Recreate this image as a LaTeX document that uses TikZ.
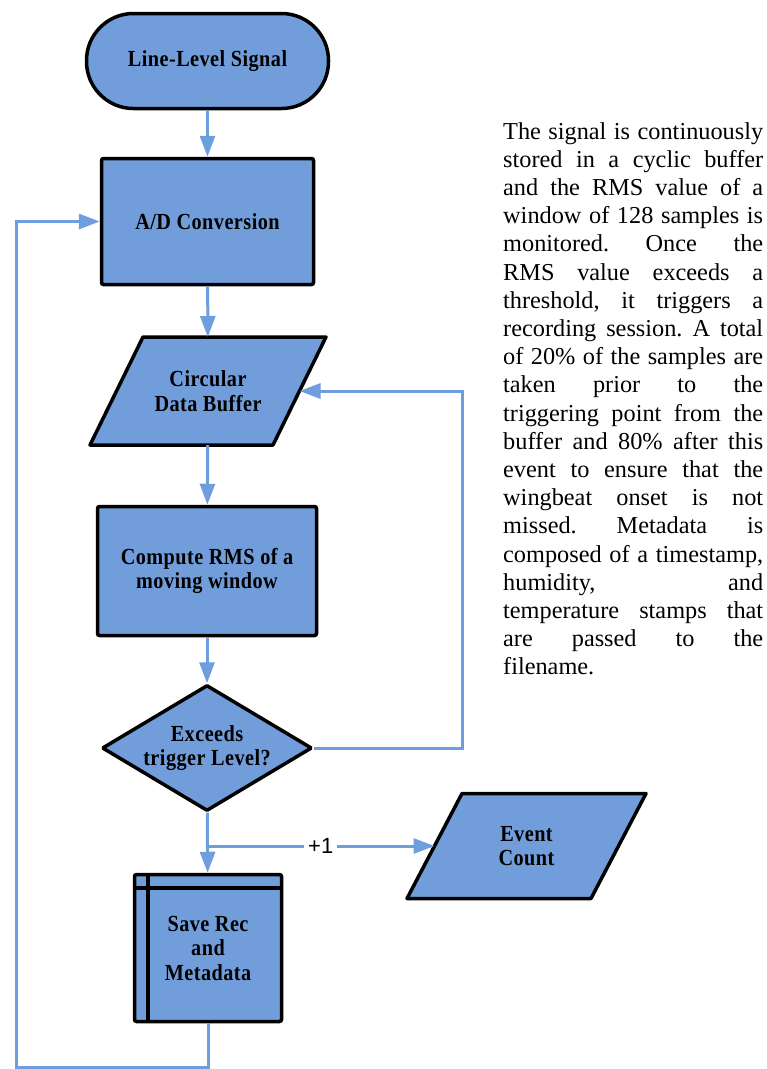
\documentclass[tikz,border=0pt]{standalone}
\usepackage{fontspec}
\setmainfont{Liberation Serif}
\newfontfamily\labelfont{Liberation Sans}
\newfontfamily\boxfont{Liberation Serif}[FakeStretch=0.88, LetterSpace=2]
\usetikzlibrary{arrows.meta, shapes.geometric, calc, backgrounds}
\definecolor{boxblue}{RGB}{113,158,218}
\definecolor{flowblue}{RGB}{110,158,222}
% one justified line of the side note
\newcommand{\jline}[1]{\makebox[260pt][s]{#1}\\}

\begin{document}
\begin{tikzpicture}[x=1pt, y=-1pt,
    block/.style={rectangle, draw=black, fill=boxblue, line width=3.5pt,
      rounded corners=2pt, align=center, inner sep=0pt,
      font=\boxfont\fontsize{23}{24.5}\selectfont\bfseries},
    term/.style={block, rounded corners=47pt},
    io/.style={block, draw=none, fill=none, outer sep=0pt},
    ioframe/.style={draw=black, fill=boxblue, line width=3.5pt, line join=round},
    decision/.style={block, diamond, aspect=1.65, rounded corners=1pt},
    flow/.style={draw=flowblue, line width=3pt, -{Triangle[length=21pt, width=15pt]}},
    note/.style={anchor=north west, inner sep=0pt, align=left,
      font=\frenchspacing\fontsize{24.3}{28.2}\selectfont},
  ]
  \useasboundingbox (0,0) rectangle (767,1069);

  % main chain
  \node[term, minimum width=242pt, minimum height=95pt] (signal) at (207.5,61) {Line-Level Signal};
  \node[block, minimum width=212pt, minimum height=126pt] (adc) at (207.5,221.5) {A/D Conversion};
  \node[io, minimum width=183pt, minimum height=108pt] (buffer) at (208,391) {Circular\\Data Buffer};
  \node[block, minimum width=219pt, minimum height=129pt] (rms) at (207,571) {Compute RMS of a\\moving window};
  \node[decision, minimum width=210pt, minimum height=126pt] (trigger) at (207,748) {Exceeds\\trigger Level?};
  \node[block, minimum width=147pt, minimum height=147pt] (save) at (208,948) {Save Rec\\and\\Metadata};
  \draw[line width=3.5pt] ([xshift=15pt]save.north west) -- ([xshift=15pt]save.south west)
    ([yshift=-15pt]save.north west) -- ([yshift=-15pt]save.north east);
  \node[io, minimum width=184pt, minimum height=105pt] (count) at (526.5,846) {Event\\Count};

  % slanted data boxes behind their text
  \begin{scope}[on background layer]
    \draw[ioframe] ([xshift=26.5pt]buffer.north west) -- ([xshift=26.5pt]buffer.north east)
      -- ([xshift=-26.5pt]buffer.south east) -- ([xshift=-26.5pt]buffer.south west) -- cycle;
    \draw[ioframe] ([xshift=27.5pt]count.north west) -- ([xshift=27.5pt]count.north east)
      -- ([xshift=-27.5pt]count.south east) -- ([xshift=-27.5pt]count.south west) -- cycle;
  \end{scope}

  % connectors
  \draw[flow] (signal) -- (adc);
  \draw[flow] (adc) -- (buffer);
  \draw[flow] (buffer) -- (rms);
  \draw[flow] (rms) -- (trigger);
  \draw[flow] (trigger) -- (save);
  \draw[flow] (trigger.south |- count) -- node[fill=white, inner sep=4pt,
    font=\labelfont\fontsize{22}{22}\selectfont] (inc) {+1} (count);
  \draw[flow] (trigger.east) -- ++(149,0) |- (buffer);
  \draw[flow] (save.south) |- ++(-192,44) |- (adc);

  % side note
  \node[note] (text) at (503,122) {%
    \jline{The signal is continuously}
    \jline{stored in a cyclic buffer}
    \jline{and the RMS value of a}
    \jline{window of 128 samples is}
    \jline{monitored. Once the}
    \jline{RMS value exceeds a}
    \jline{threshold, it triggers a}
    \jline{recording session. A total}
    \jline{of 20\% of the samples are}
    \jline{taken prior to the}
    \jline{triggering point from the}
    \jline{buffer and 80\% after this}
    \jline{event to ensure that the}
    \jline{wingbeat onset is not}
    \jline{missed. Metadata is}
    \jline{composed of a timestamp,}
    \jline{humidity, and}
    \jline{temperature stamps that}
    \jline{are passed to the}
    filename.};
\end{tikzpicture}
\end{document}
